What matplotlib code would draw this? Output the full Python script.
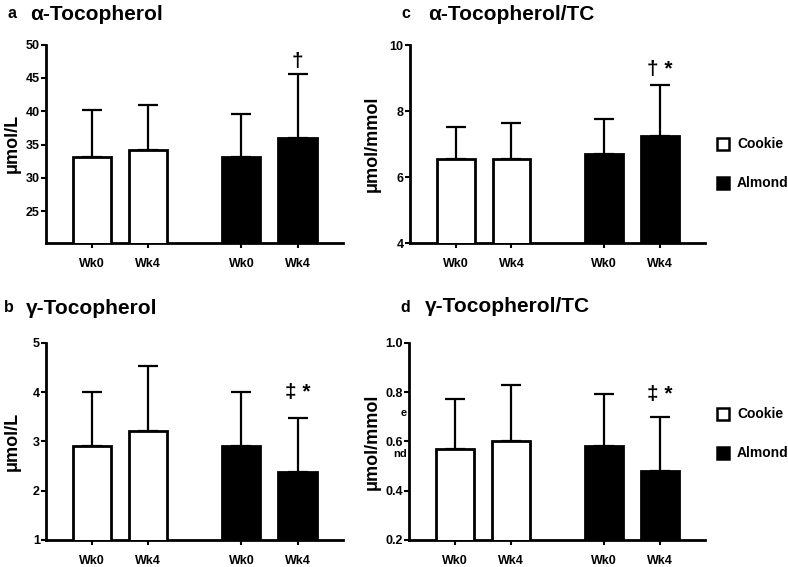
import matplotlib
matplotlib.use("Agg")
import matplotlib.pyplot as plt
import numpy as np

plt.rcParams['font.family'] = ['Liberation Sans', 'DejaVu Sans']
plt.rcParams['font.weight'] = 'bold'

W, H = 788, 567

# data
ticks = ['Wk0', 'Wk4', 'Wk0', 'Wk4']
groups = ['Cookie', 'Cookie', 'Almond', 'Almond']

a_mean = [33.1, 34.2, 33.1, 36.0]
a_sd = [7.1, 6.8, 6.5, 9.6]
b_mean = [2.9, 3.2, 2.9, 2.38]
b_sd = [1.1, 1.33, 1.1, 1.1]
c_mean = [6.55, 6.55, 6.7, 7.25]
c_sd = [0.97, 1.1, 1.05, 1.55]
d_mean = [0.57, 0.60, 0.58, 0.48]
d_sd = [0.20, 0.23, 0.21, 0.22]

pos = [0, 1, 2.66, 3.66]
colors = ['white', 'white', 'black', 'black']


def px_axes(x0, y0, x1, y1):
    return fig.add_axes([x0 / W, 1 - y1 / H, (x1 - x0) / W, (y1 - y0) / H])


def panel(ax, mean, sd, ylim, yt, ylab, marks, mark_off, fmt):
    ax.bar(pos, mean, width=0.68, color=colors, edgecolor='black',
           linewidth=2.0, zorder=3)
    ax.errorbar(pos, mean, yerr=[np.zeros(4), sd], fmt='none',
                ecolor='black', elinewidth=1.6, capsize=7, capthick=1.6,
                zorder=2)
    ax.set_xlim(-0.82, 4.47)
    ax.set_ylim(*ylim)
    ax.set_yticks(yt)
    ax.set_yticklabels([fmt.format(v) for v in yt], fontsize=9, fontweight='bold')
    ax.set_xticks(pos)
    ax.set_xticklabels(ticks, fontsize=9, fontweight='bold')
    ax.tick_params(axis='x', length=3.5, width=1.5, pad=7)
    ax.tick_params(axis='y', length=3.5, width=1.5, pad=1)
    for s in ['top', 'right']:
        ax.spines[s].set_visible(False)
    for s in ['left', 'bottom']:
        ax.spines[s].set_linewidth(2.0)
    ax.set_ylabel(ylab, fontsize=13, fontweight='bold')
    ax.annotate(marks, (pos[3], mean[3] + sd[3]), xytext=(0, mark_off),
                textcoords='offset points', ha='center', va='center',
                fontsize=15, fontweight='bold')


fig = plt.figure(figsize=(W / 100, H / 100), dpi=100)

ax_a = px_axes(46, 44.7, 343, 243)
panel(ax_a, a_mean, a_sd, (20.2, 50), [25, 30, 35, 40, 45, 50], 'μmol/L', '†', 9, '{:d}')
ax_c = px_axes(410, 45, 705, 243)
panel(ax_c, c_mean, c_sd, (4, 10), [4, 6, 8, 10], 'μmol/mmol', '† *', 11, '{:d}')
ax_b = px_axes(46, 342.7, 343, 540)
panel(ax_b, b_mean, b_sd, (1, 5), [1, 2, 3, 4, 5], 'μmol/L', '‡ *', 18, '{:d}')
ax_d = px_axes(409, 342.7, 705, 540)
panel(ax_d, d_mean, d_sd, (0.2, 1.0), [0.2, 0.4, 0.6, 0.8, 1.0], 'μmol/mmol', '‡ *', 16, '{:.1f}')

# label's right edge sits at x ~ 21 px (left panels) and ~381 px (right panels)
ax_a.yaxis.set_label_coords((21 - 46) / 297, 0.5)
ax_b.yaxis.set_label_coords((21 - 46) / 297, 0.5)
ax_c.yaxis.set_label_coords((381 - 410) / 295, 0.5)
ax_d.yaxis.set_label_coords((381 - 409) / 296, 0.5)

# panel titles
titles = [('a', 'α-Tocopherol', 8, 30, 14),
          ('c', 'α-Tocopherol/TC', 401, 428, 14),
          ('b', 'γ-Tocopherol', 4, 26, 308),
          ('d', 'γ-Tocopherol/TC', 400, 425, 307)]
for letter, name, lx, tx, ty in titles:
    fig.text(lx / W, 1 - ty / H, letter, fontsize=11.5, fontweight='bold',
             ha='left', va='center')
    fig.text(tx / W, 1 - ty / H, name, fontsize=15, fontweight='bold',
             ha='left', va='center')

# legends
for ly in [(144, 183), (414, 453)]:
    for y, g, fc in zip(ly, ['Cookie', 'Almond'], ['white', 'black']):
        fig.patches.append(plt.Rectangle((717 / W, 1 - (y + 6) / H), 12 / W, 12 / H,
                                         facecolor=fc, edgecolor='black', linewidth=1.8,
                                         transform=fig.transFigure, figure=fig))
        fig.text(737 / W, 1 - y / H, g, fontsize=10, fontweight='bold',
                 ha='left', va='center')

# leftover legend fragments visible in panel d
fig.text(407 / W, 1 - 413 / H, 'e', fontsize=8, fontweight='bold', ha='right', va='center')
fig.text(407 / W, 1 - 454 / H, 'nd', fontsize=8, fontweight='bold', ha='right', va='center')

fig.savefig('out.png', dpi=100)
